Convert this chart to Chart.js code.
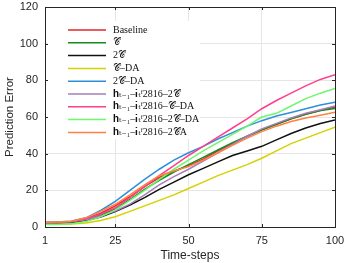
<!DOCTYPE html>
<html lang="en">
<head>
    <meta charset="UTF-8">
    <title>Prediction Error</title>
    <style>
        body { margin: 0; background: #fff; }
    </style>
</head>
<body>
    <canvas id="myCanvas" width="347" height="263"></canvas>
    <script src="https://cdn.jsdelivr.net/npm/chart.js@4/dist/chart.umd.min.js"></script>
    <script>
        // time steps where values were read
        const steps = [1, 5, 10, 15, 20, 25, 30, 35, 40, 45, 50, 55, 60, 65, 70, 75, 80, 85, 90, 95, 100];
        const xTicks = [1, 25, 50, 75, 100];

        const labels = [
            'Baseline', '𝒞', '2𝒞', '𝒞–DA', '2𝒞–DA',
            '𝐡ₜ₋₁–𝐢ₜᶠ2816–2𝒞', '𝐡ₜ₋₁–𝐢ₜᶠ2816–𝒞–DA', '𝐡ₜ₋₁–𝐢ₜᶠ2816–2𝒞–DA', '𝐡ₜ₋₁–𝐢ₜᶠ2816–2𝒞A'
        ];

        const baseline = [2.5, 2.6, 3, 4.5, 7.5, 11.5, 16.5, 22, 27, 30.5, 33.5, 37, 41.5, 45.5, 49.5, 53, 56, 59, 61.5, 63.5, 65.5];
        const c1 = [2, 2.1, 2.5, 4, 6.5, 9.8, 15, 20.5, 25.5, 30, 34, 38, 42, 46, 49.5, 53, 56, 59, 61.5, 63.5, 64.7];
        const c2 = [2, 2.1, 2.4, 3.5, 5.5, 8.4, 12, 16, 20.5, 24.5, 28.5, 32, 35.5, 39, 41.5, 44, 47.5, 51, 54, 56.5, 58.4];
        const c1da = [1.5, 1.5, 1.7, 2.2, 3.5, 5.6, 8.5, 11.5, 14.5, 17.5, 21, 24.5, 28, 31, 34, 37.5, 41.5, 45.5, 48.5, 51.5, 54.4];
        const c2da = [2.5, 2.7, 3.2, 5, 9, 14, 20, 26, 31.5, 36.5, 40.5, 44, 48, 51.5, 55, 58, 60.5, 62.5, 64.5, 66.5, 68];
        const h2c = [2.3, 2.4, 2.8, 4, 6, 8.7, 12.5, 17.5, 23, 27.5, 31.5, 36, 40.5, 45, 49.5, 53.5, 56.5, 59.5, 62, 64, 66];
        const hcda = [2.5, 2.6, 3, 4.5, 7, 10.5, 16, 22, 28, 33.5, 39, 44, 49, 54, 59, 64.5, 69, 73, 77, 80.5, 83];
        const h2cda = [1.3, 1.4, 1.8, 3, 5.5, 9.3, 14.5, 20, 26, 31.5, 36.5, 41.5, 46, 50.5, 55, 60, 62, 66, 70, 73, 75.5];
        const h2ca = [2.5, 2.7, 3.2, 5, 8.5, 12.4, 17.5, 23, 28, 30.5, 33, 36.5, 40.5, 44.5, 48.5, 52, 55, 57.5, 59.5, 61, 62.6];

        const series = [baseline, c1, c2, c1da, c2da, h2c, hcda, h2cda, h2ca];
        const colors = ['#e5262b', '#168a1c', '#111111', '#d6d100', '#2d8fdb', '#a57fb8', '#ff3f8c', '#6cf76c', '#ff8044'];

        const axisColor = '#262626';
        const sansFont = "'Liberation Sans', Arial, sans-serif";

        // MATLAB style box, inward ticks and the legend inside the axes
        const boxPlugin = {
            id: 'box',
            beforeDatasetsDraw(chart) {
                const { ctx } = chart;
                // legend background
                ctx.save();
                ctx.fillStyle = '#fff';
                ctx.fillRect(48, 21, 152, 118);
                ctx.restore();
            },
            afterDatasetsDraw(chart) {
                const { ctx, chartArea: a, scales } = chart;
                ctx.save();
                ctx.strokeStyle = axisColor;
                ctx.lineWidth = 1;
                ctx.strokeRect(a.left + 0.5, a.top + 0.5, a.right - a.left, a.bottom - a.top);
                ctx.beginPath();
                scales.y.ticks.forEach(t => {
                    const y = Math.round(scales.y.getPixelForValue(t.value)) + 0.5;
                    ctx.moveTo(a.left, y); ctx.lineTo(a.left + 3, y);
                    ctx.moveTo(a.right, y); ctx.lineTo(a.right - 3, y);
                });
                scales.x.ticks.forEach(t => {
                    const x = Math.round(scales.x.getPixelForValue(t.value)) + 0.5;
                    ctx.moveTo(x, a.bottom); ctx.lineTo(x, a.bottom - 3);
                    ctx.moveTo(x, a.top); ctx.lineTo(x, a.top + 3);
                });
                ctx.stroke();

                // legend
                ctx.font = "10px 'Liberation Serif', 'DejaVu Serif', serif";
                ctx.textBaseline = 'middle';
                ctx.fillStyle = '#111';
                chart.data.datasets.forEach((ds, i) => {
                    const y = 30 + i * 12.8;
                    ctx.strokeStyle = ds.borderColor;
                    ctx.lineWidth = 1.5;
                    ctx.beginPath();
                    ctx.moveTo(68, y); ctx.lineTo(106, y);
                    ctx.stroke();
                    ctx.fillText(ds.label, 113, y);
                });
                ctx.restore();
            }
        };

        new Chart(document.getElementById('myCanvas'), {
            type: 'line',
            data: {
                datasets: series.map((s, i) => ({
                    label: labels[i],
                    data: s.map((v, j) => ({ x: steps[j], y: v })),
                    borderColor: colors[i],
                    backgroundColor: colors[i],
                    borderWidth: 1.5,
                    pointRadius: 0,
                    tension: 0,
                    order: series.length - i
                }))
            },
            options: {
                responsive: false,
                animation: false,
                devicePixelRatio: 1,
                layout: { padding: { top: 7, right: 12, left: 0, bottom: 0 } },
                plugins: {
                    legend: { display: false },
                    tooltip: { enabled: false }
                },
                scales: {
                    x: {
                        type: 'linear',
                        min: 1,
                        max: 100,
                        afterBuildTicks: scale => { scale.ticks = xTicks.map(v => ({ value: v })); },
                        afterFit: scale => { scale.height = 36; scale.paddingLeft = 0; scale.paddingRight = 0; },
                        grid: { color: '#e6e6e6', drawTicks: false },
                        border: { color: axisColor },
                        ticks: { color: axisColor, font: { family: sansFont, size: 11 }, padding: 7, maxRotation: 0 },
                        title: { display: true, text: 'Time-steps', color: axisColor, font: { family: sansFont, size: 12 }, padding: 0 }
                    },
                    y: {
                        min: 0,
                        max: 120,
                        ticks: { stepSize: 20, color: axisColor, font: { family: sansFont, size: 11 }, padding: 7 },
                        afterFit: scale => { scale.width = 45; scale.paddingTop = 0; scale.paddingBottom = 0; },
                        grid: { color: '#e6e6e6', drawTicks: false },
                        border: { color: axisColor },
                        title: { display: true, text: 'Prediction Error', color: axisColor, font: { family: sansFont, size: 11.5 }, padding: { top: 3, bottom: 0 } }
                    }
                }
            },
            plugins: [boxPlugin]
        });
    </script>
</body>
</html>
